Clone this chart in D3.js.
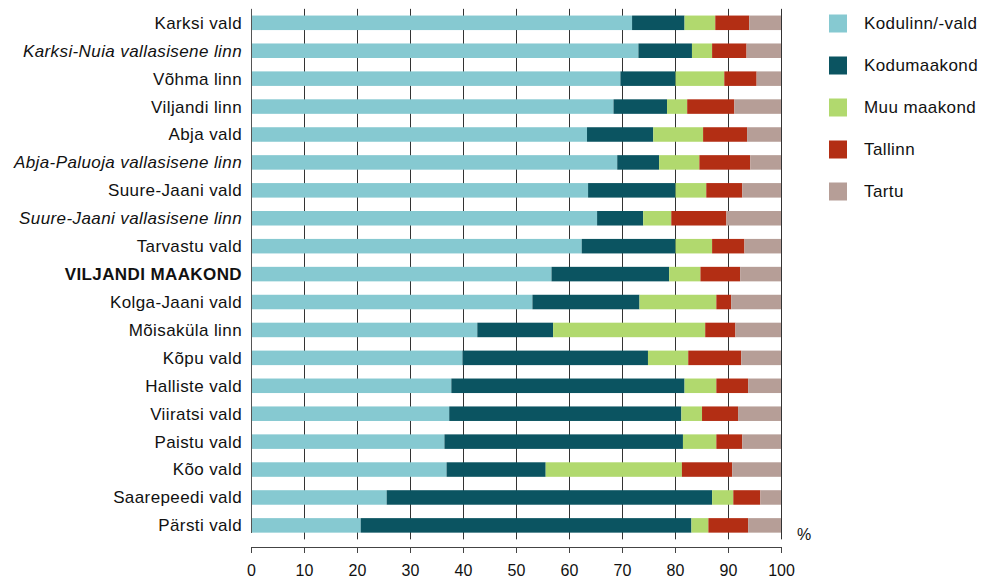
<!DOCTYPE html>
<html>
<head>
<meta charset="utf-8">
<script src="https://cdn.jsdelivr.net/npm/d3@7"></script>
<style>
  body { margin: 0; background: #fff; }
  text { font-family: "Liberation Sans", Arial, sans-serif; fill: #111; }
</style>
</head>
<body>
<div id="chart"></div>
<script>
// categories, top to bottom
var places = ["Karksi vald", "Karksi-Nuia vallasisene linn", "Võhma linn", "Viljandi linn",
  "Abja vald", "Abja-Paluoja vallasisene linn", "Suure-Jaani vald", "Suure-Jaani vallasisene linn",
  "Tarvastu vald", "VILJANDI MAAKOND", "Kolga-Jaani vald", "Mõisaküla linn", "Kõpu vald",
  "Halliste vald", "Viiratsi vald", "Paistu vald", "Kõo vald", "Saarepeedi vald", "Pärsti vald"];

var seriesNames = ["Kodulinn/-vald", "Kodumaakond", "Muu maakond", "Tallinn", "Tartu"];

// shares (%) per series, same order as places
var kodulinn    = [71.9, 73.1, 69.7, 68.4, 63.4, 69.1, 63.6, 65.3, 62.4, 56.7, 53.1, 42.7, 39.9, 37.8, 37.4, 36.5, 36.9, 25.6, 20.7];
var kodumaakond = [ 9.9, 10.1, 10.4, 10.1, 12.5,  7.9, 16.5,  8.7, 17.7, 22.2, 20.2, 14.3, 35.0, 44.0, 43.8, 45.0, 18.7, 61.4, 62.4];
var muuMaakond  = [ 5.8,  3.8,  9.2,  3.8,  9.4,  7.6,  5.8,  5.3,  6.9,  5.9, 14.5, 28.7,  7.6,  6.0,  3.9,  6.3, 25.7,  4.0,  3.2];
var tallinn     = [ 6.4,  6.5,  6.1,  8.9,  8.3,  9.6,  6.8, 10.4,  6.1,  7.5,  2.8,  5.7, 10.0,  6.0,  6.8,  4.9,  9.5,  5.1,  7.5];
var tartu       = [ 6.0,  6.5,  4.6,  8.8,  6.4,  5.8,  7.3, 10.3,  6.9,  7.7,  9.4,  8.6,  7.5,  6.2,  8.1,  7.3,  9.2,  3.9,  6.2];

var xTicks = [0, 10, 20, 30, 40, 50, 60, 70, 80, 90, 100];

var italicRows = ["Karksi-Nuia vallasisene linn", "Abja-Paluoja vallasisene linn", "Suure-Jaani vallasisene linn"];
var boldRows = ["VILJANDI MAAKOND"];

var colors = ["#86c9d1", "#0b5461", "#b1d96e", "#b32e14", "#b69e97"];

var width = 987, height = 580;

var svg = d3.select("#chart")
  .append("svg")
    .attr("width", width)
    .attr("height", height);

// build rows for the stack
var rows = places.map(function(p, i) {
  var r = {place: p};
  r[seriesNames[0]] = kodulinn[i];
  r[seriesNames[1]] = kodumaakond[i];
  r[seriesNames[2]] = muuMaakond[i];
  r[seriesNames[3]] = tallinn[i];
  r[seriesNames[4]] = tartu[i];
  return r;
});

var x = d3.scaleLinear()
  .domain([0, 100])
  .range([251, 781]);

var y = d3.scaleBand()
  .domain(places)
  .range([8.85, 539.35])
  .paddingInner(0.48)
  .paddingOuter(0.24);

var color = d3.scaleOrdinal()
  .domain(seriesNames)
  .range(colors);

// vertical grid lines
svg.append("g")
  .selectAll("line")
  .data(xTicks.slice(1))
  .enter()
  .append("line")
    .attr("x1", function(d) { return x(d) + 0.5; })
    .attr("x2", function(d) { return x(d) + 0.5; })
    .attr("y1", 8.85)
    .attr("y2", 539.35)
    .attr("stroke", "#333")
    .attr("stroke-width", 1);

var stack = d3.stack().keys(seriesNames);
var layers = stack(rows);

svg.append("g")
  .selectAll("g")
  .data(layers)
  .enter()
  .append("g")
    .attr("fill", function(d) { return color(d.key); })
  .selectAll("rect")
  .data(function(d) { return d; })
  .enter()
  .append("rect")
    .attr("x", function(d) { return x(d[0]); })
    .attr("y", function(d) { return y(d.data.place); })
    .attr("width", function(d) { return x(d[1]) - x(d[0]); })
    .attr("height", y.bandwidth());

// left axis line
svg.append("line")
  .attr("x1", x(0) + 0.5).attr("x2", x(0) + 0.5)
  .attr("y1", 8.85).attr("y2", 533)
  .attr("stroke", "#555");

// category labels
svg.append("g")
  .selectAll("text")
  .data(places)
  .enter()
  .append("text")
    .attr("x", x(0) - 9)
    .attr("y", function(d) { return y(d) + y.bandwidth() / 2; })
    .attr("dy", "0.35em")
    .attr("text-anchor", "end")
    .style("font-size", "17px")
    .style("letter-spacing", "0.4px")
    .style("font-style", function(d) { return italicRows.indexOf(d) >= 0 ? "italic" : "normal"; })
    .style("font-weight", function(d) { return boldRows.indexOf(d) >= 0 ? "bold" : "normal"; })
    .text(function(d) { return d; });

// bottom axis
var xAxis = svg.append("g")
  .attr("transform", "translate(0,547)")
  .call(d3.axisBottom(x).tickValues(xTicks).tickSize(6).tickSizeOuter(0).tickPadding(12));
xAxis.select(".domain").attr("stroke", "#444");
xAxis.selectAll(".tick line").attr("stroke", "#444");
xAxis.selectAll("text")
  .style("font-size", "16px")
  .style("font-family", "Liberation Sans, Arial, sans-serif")
  .attr("fill", "#111");

svg.append("text")
  .attr("x", 797)
  .attr("y", 540)
  .style("font-size", "16px")
  .text("%");

// legend
var legend = svg.append("g")
  .selectAll("g")
  .data(seriesNames)
  .enter()
  .append("g")
    .attr("transform", function(d, i) { return "translate(829," + (23.5 + i * 42) + ")"; });

legend.append("rect")
  .attr("x", 0)
  .attr("y", -9)
  .attr("width", 18)
  .attr("height", 18)
  .attr("fill", function(d) { return color(d); });

legend.append("text")
  .attr("x", 35)
  .attr("y", 0)
  .attr("dy", "0.35em")
  .style("font-size", "17px")
  .style("letter-spacing", "0.4px")
  .text(function(d) { return d; });
</script>
</body>
</html>
